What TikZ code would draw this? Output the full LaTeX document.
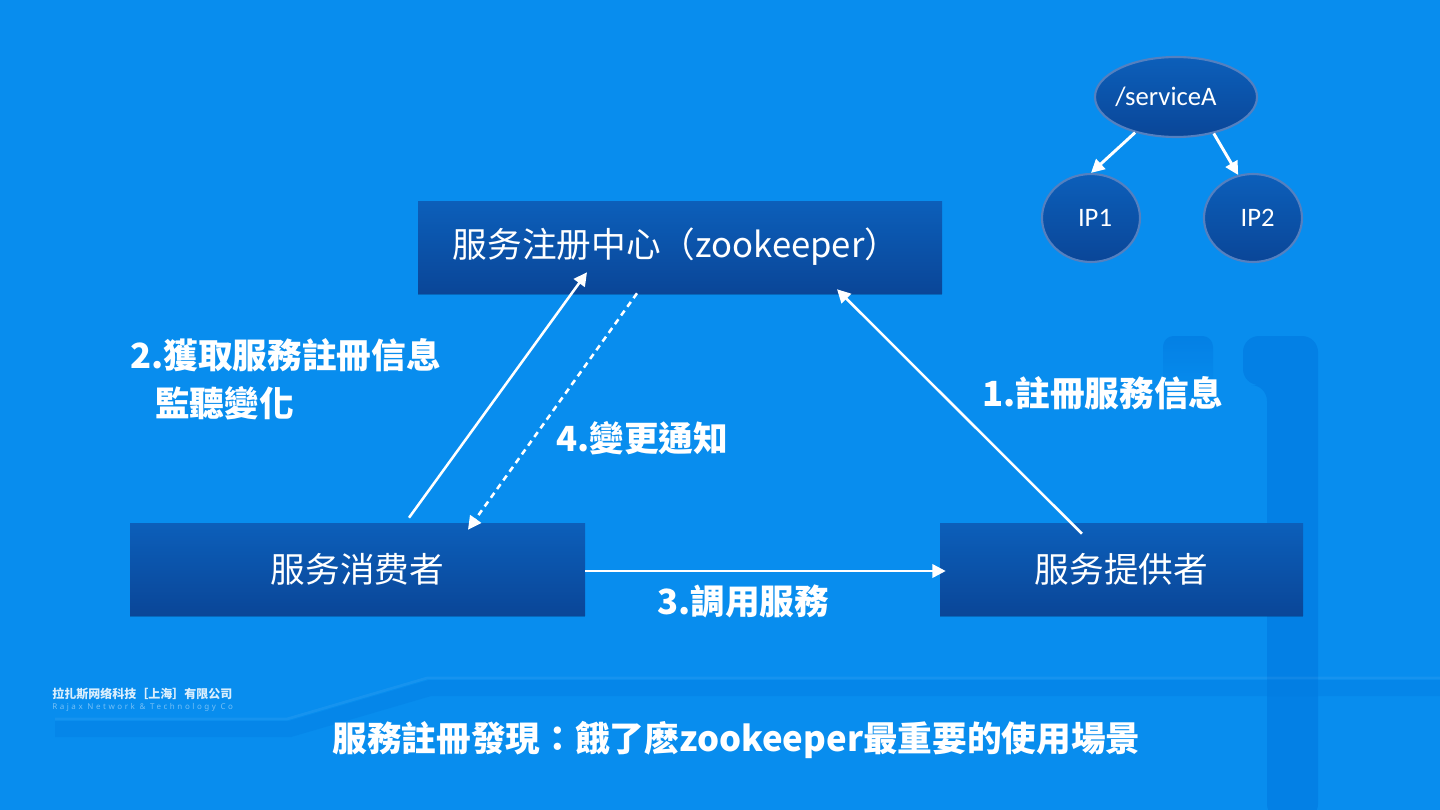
\documentclass[tikz,border=0pt]{standalone}
\usepackage{fontspec}
\setmainfont{Noto Sans}
\newfontfamily\cjksc{Noto Sans CJK SC}
\newfontfamily\cjktc{Noto Sans CJK TC}
\newfontfamily\calib{Carlito}
\newfontfamily\logolat[LetterSpace=32]{Noto Sans}
\usetikzlibrary{arrows.meta,shapes.geometric,calc,shadows}
\definecolor{bg}{RGB}{8,141,238}
\definecolor{boxtop}{RGB}{12,95,186}
\definecolor{boxbot}{RGB}{10,70,152}
\definecolor{deco}{RGB}{2,124,226}
\definecolor{ellline}{RGB}{84,128,192}
\definecolor{shcol}{RGB}{4,40,100}
\begin{document}
\begin{tikzpicture}[x=0.75pt,y=-0.75pt,
  box/.style={rectangle, top color=boxtop, bottom color=boxbot, draw=none, text=white,
    font=\cjksc\fontsize{26pt}{30pt}\selectfont, inner sep=0pt,
    drop shadow={shadow xshift=0pt, shadow yshift=-1.5pt, opacity=0.35, fill=shcol}},
  ell/.style={ellipse, top color=boxtop, bottom color=boxbot, draw=ellline, line width=1.6pt,
    text=white, font=\calib\fontsize{20pt}{24pt}\selectfont, inner sep=0pt},
  lbl/.style={text=white, font=\cjktc\bfseries\fontsize{26pt}{30pt}\selectfont, inner sep=0pt},
  arr/.style={draw=white, line width=1.9pt, -{Triangle[length=10pt,width=10pt]}},
  tarr/.style={draw=white, line width=2.2pt, -{Triangle[length=10pt,width=10pt]}},
  darr/.style={arr, dash pattern=on 4.5pt off 3.5pt},
]
% background
\fill[bg] (0,0) rectangle (1440,810);
\useasboundingbox (0,0) rectangle (1440,810);
% decorative shapes
\fill[deco, opacity=0.75, rounded corners=12] (1267,820) -- (1267,385) -- (1243,385) -- (1243,336) -- (1318,336) -- (1318,820) -- cycle;
\shade[top color=deco, bottom color=bg, rounded corners=8, opacity=0.75] (1163,336) rectangle (1213,395);
\draw[deco, line width=12pt, opacity=0.4] (1440,688) -- (430,688) -- (290,729) -- (55,729);
\draw[white, line width=2pt, opacity=0.06] (1440,678) -- (427,678) -- (287,719) -- (55,719);

% main boxes
\node[box, minimum width=393pt, minimum height=69pt] (zk) at (680,247) {服务注册中心（zookeeper）\hspace*{6pt}};
\node[box, minimum width=341.25pt, minimum height=69pt] (cons) at (357.5,569) {服务消费者};
\node[box, minimum width=272.25pt, minimum height=69pt] (prov) at (1121.5,569) {服务提供者};

% tree
\node[ell, minimum width=121.5pt, minimum height=60pt] (svc) at (1176,97) {\makebox[0pt]{/serviceA\hspace*{15pt}}};
\node[ell, minimum width=73.5pt, minimum height=66pt] (ip1) at (1091,218) {\makebox[0pt]{\hspace*{6pt}IP1}};
\node[ell, minimum width=73.5pt, minimum height=66pt] (ip2) at (1253,218) {\makebox[0pt]{\hspace*{7pt}IP2}};
\draw[tarr] (svc.221) -- (ip1.north);
\draw[tarr] (svc.316) -- (ip2.109);

% connectors
\draw[arr] ($(cons.north)+(51.5,-5)$) -- ($(zk.south)+(-93,-21)$);
\draw[darr] ($(zk.south)+(-43,0)$) -- ($(cons.north)+(110.5,7)$);
\draw[arr] ($(prov.north)+(-39.5,11)$) -- ($(zk.south)+(157,-4)$);
\draw[arr] ($(cons.east)+(0,2)$) -- ($(prov.west)+(6,2)$);

% labels
\node[lbl, anchor=west] (l2a) at (130,355) {2.獲取服務註冊信息};
\node[lbl, anchor=west] (l2b) at (155,403) {監聽變化};
\node[lbl, anchor=west] (l4) at (556,438) {4.變更通知};
\node[lbl, anchor=west] (l1) at (982,393) {1.註冊服務信息};
\node[lbl] (title) at (736.5,740) {服務註冊發現：餓了麽zookeeper最重要的使用場景};
\node[lbl, anchor=west] (l3) at (657,601) {3.調用服務};

% logo
\node[anchor=west, inner sep=0pt, text=white, opacity=0.85, font=\cjksc\bfseries\fontsize{9pt}{10pt}\selectfont] (logo1) at (52,694) {拉扎斯网络科技［上海］有限公司};
\node[anchor=west, inner sep=0pt, text=white, opacity=0.45, font=\logolat\fontsize{6pt}{7pt}\selectfont] (logo2) at (52,707) {Rajax Network \& Technology Co};
\end{tikzpicture}
\end{document}
